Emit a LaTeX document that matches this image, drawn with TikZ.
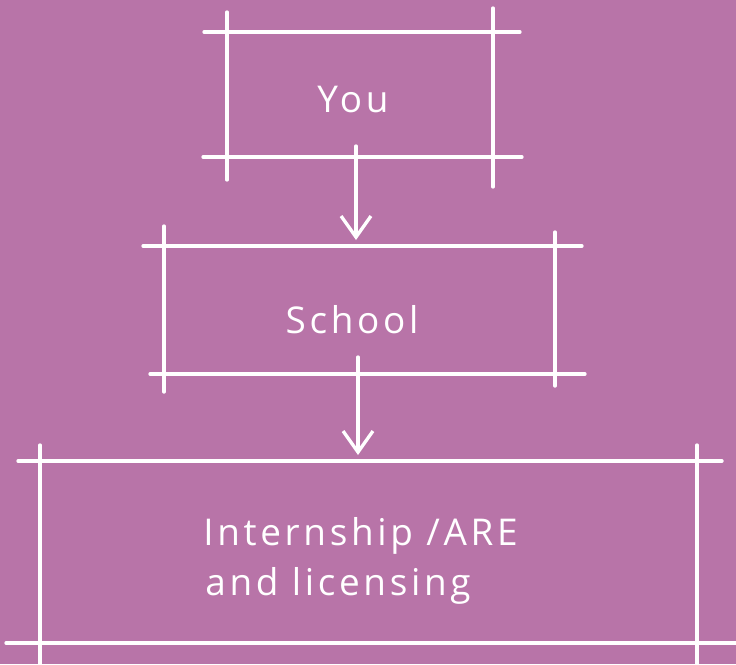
\documentclass[tikz,border=0pt]{standalone}
\usepackage{fontspec}
\setmainfont[LetterSpace=10]{Open Sans}
\usetikzlibrary{arrows.meta}
\definecolor{plum}{HTML}{B874A8}
\tikzset{
  sketch/.style={white, line width=1.9pt, line cap=round},
  flow/.style={sketch, -{Straight Barb[length=12pt,width=17pt]}},
  hand/.style={white, inner sep=0pt, font=\fontsize{21}{28}\selectfont}
}
\begin{document}
\begin{tikzpicture}[x=0.02cm, y=-0.02cm]

    % Background
    \useasboundingbox (0,0) rectangle (736,664);
    \fill[plum] (0,0) rectangle (736,664);

    % Box for You
    \draw[sketch] (204,32) -- (520,32);
    \draw[sketch] (203,157) -- (522,157);
    \draw[sketch] (227,12) -- (227,180);
    \draw[sketch] (493,8) -- (493,187);
    \node[hand] (you) at (353,100) {You};

    % Box for School
    \draw[sketch] (143,246) -- (582,246);
    \draw[sketch] (150,374) -- (585,374);
    \draw[sketch] (164,226) -- (164,392);
    \draw[sketch] (555,232) -- (555,386);
    \node[hand] (school) at (352,320) {School};

    % Box for Internship
    \draw[sketch] (18,461) -- (722,461);
    \draw[sketch] (6,643) -- (736,643);
    \draw[sketch] (40,445) -- (40,664);
    \draw[sketch] (697,445) -- (697,664);
    \node[hand, anchor=base west] (intern) at (203,545) {Internship /ARE};
    \node[hand, anchor=base west] (licence) at (205,595) {and licensing};

    % Arrows between the boxes
    \coordinate (A) at (356,146); % leaves You
    \coordinate (B) at (356,240); % reaches School
    \coordinate (C) at (358,357); % leaves School
    \coordinate (D) at (358,455); % reaches Internship
    \draw[flow] (A) -- (B);
    \draw[flow] (C) -- (D);

\end{tikzpicture}
\end{document}
